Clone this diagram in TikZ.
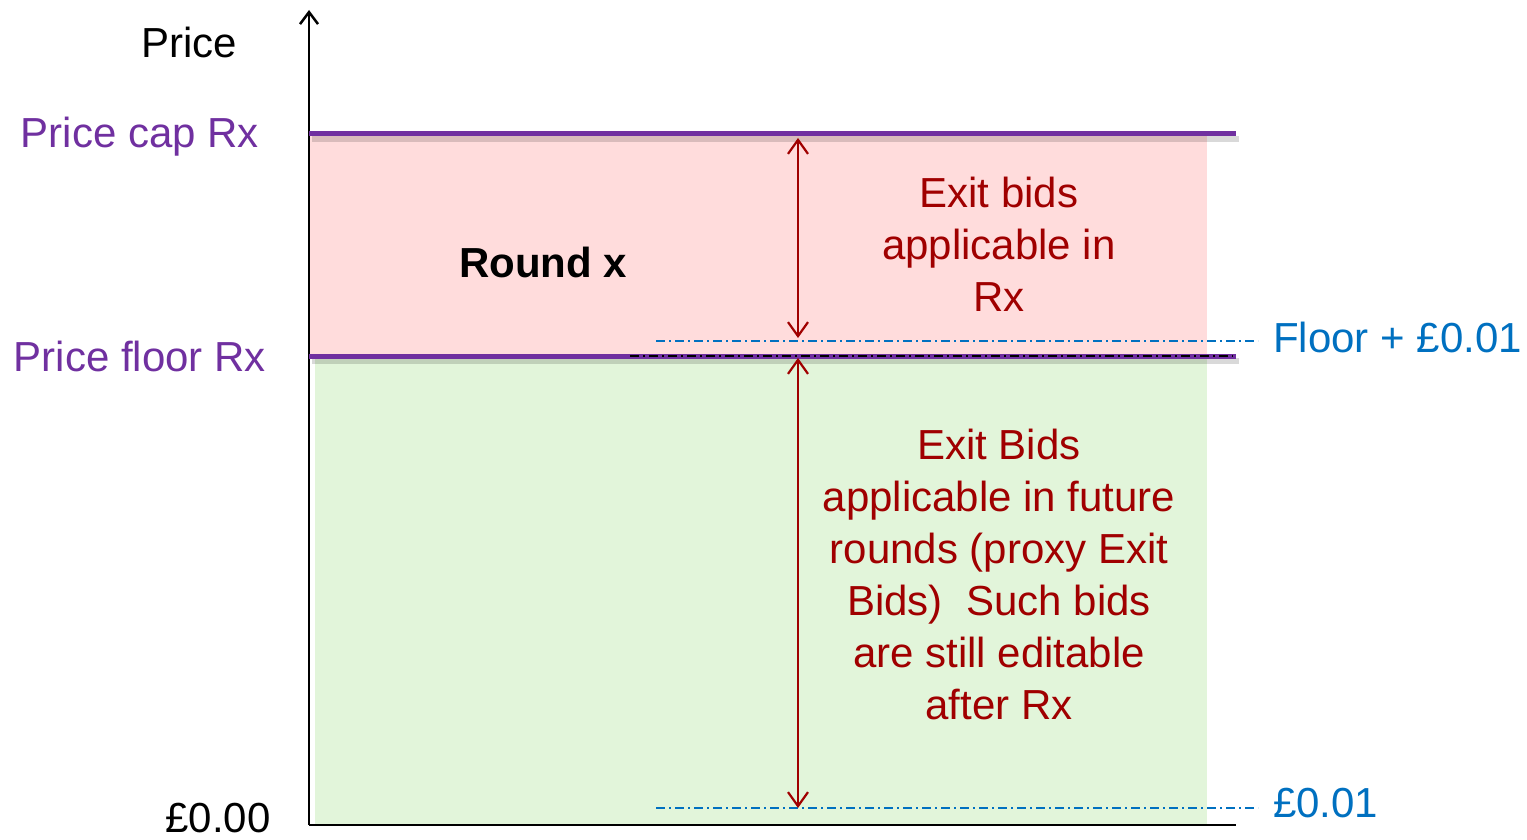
\documentclass[tikz,border=0pt]{standalone}
\usepackage{fontspec}
\setmainfont{Liberation Sans}
\usetikzlibrary{arrows.meta}
\definecolor{capPurple}{HTML}{7030A0}
\definecolor{zonePink}{HTML}{FFDCDC}
\definecolor{zoneGreen}{HTML}{E2F5DA}
\definecolor{bidRed}{HTML}{A00000}
\definecolor{tickBlue}{HTML}{0070C0}
\tikzset{
  lbl/.style={font=\fontsize{42}{52}\selectfont, inner sep=0pt},
  pricelbl/.style={lbl, text=capPurple},
  bidlbl/.style={lbl, text=bidRed, align=center},
  bluelbl/.style={lbl, text=tickBlue, anchor=west},
  bound/.style={capPurple, line width=5pt},
  boundshadow/.style={black, opacity=0.15, line width=6pt},
  span/.style={bidRed, line width=2.2pt, {Straight Barb[length=14pt,width=20pt,line width=2.2pt]}-{Straight Barb[length=14pt,width=20pt,line width=2.2pt]}},
  tick/.style={tickBlue, line width=1.8pt, dash pattern=on 9pt off 4pt on 2pt off 4pt},
  axis/.style={black, line width=2.5pt},
}
\begin{document}
\begin{tikzpicture}[x=1pt,y=-1pt]
\useasboundingbox (0,0) rectangle (1527,840);
% shaded price zones
\fill[zonePink] (309,135) rectangle (1207,355);
\fill[zoneGreen] (315,357) rectangle (1207,825);
% axes
\coordinate (origin) at (309,825);
\coordinate (ytop) at (309,10);
\coordinate (xend) at (1236,825);
\draw[axis, -{Straight Barb[length=12pt,width=18pt,line width=2.5pt]}] (origin) -- (ytop);
\draw[axis] (origin) -- (xend);
% cap and floor lines
\coordinate (capL) at (309,134);
\coordinate (capR) at (1236,134);
\coordinate (floorL) at (309,356);
\coordinate (floorR) at (1236,356);
\draw[boundshadow] ([shift={(3pt,-5pt)}]capL) -- ([shift={(3pt,-5pt)}]capR);
\draw[boundshadow] ([shift={(3pt,-5pt)}]floorL) -- ([shift={(3pt,-5pt)}]floorR);
\draw[bound] (capL) -- (capR);
\draw[bound] (floorL) -- (floorR);
\coordinate (dashL) at (630,356);
\coordinate (dashR) at (1233,356);
\draw[black, line width=1.8pt, dash pattern=on 9pt off 4pt on 2pt off 4pt] (dashL) -- (dashR);
% blue reference levels
\coordinate (fpL) at (656,341);
\coordinate (fpR) at (1258,341);
\coordinate (pL) at (656,808);
\coordinate (pR) at (1258,808);
\draw[tick] (fpL) -- (fpR);
\draw[tick] (pL) -- (pR);
% spans
\coordinate (a1) at (798,138);
\coordinate (a2) at (798,338);
\coordinate (b1) at (798,358);
\coordinate (b2) at (798,808);
\draw[span] (a1) -- (a2);
\draw[span] (b1) -- (b2);
% labels
\node[lbl] (price) at (189,42) {Price};
\node[pricelbl] (caplbl) at (140,137) {Price cap Rx};
\node[pricelbl] (floorlbl) at (140,356) {Price floor Rx};
\node[lbl] (zero) at (218,818) {£0.00};
\node[lbl, font=\fontsize{42}{52}\selectfont\bfseries] (round) at (543,262) {Round x};
\node[bidlbl] (exitnow) at (999,244) {Exit bids\\applicable in\\Rx};
\node[bidlbl] (exitlater) at (999,574) {Exit Bids\\applicable in future\\rounds (proxy Exit\\Bids)\ \ Such bids\\are still editable\\after Rx};
\node[bluelbl] (floorplus) at (1273,337) {Floor + £0.01};
\node[bluelbl] (penny) at (1273,803) {£0.01};
\end{tikzpicture}
\end{document}
